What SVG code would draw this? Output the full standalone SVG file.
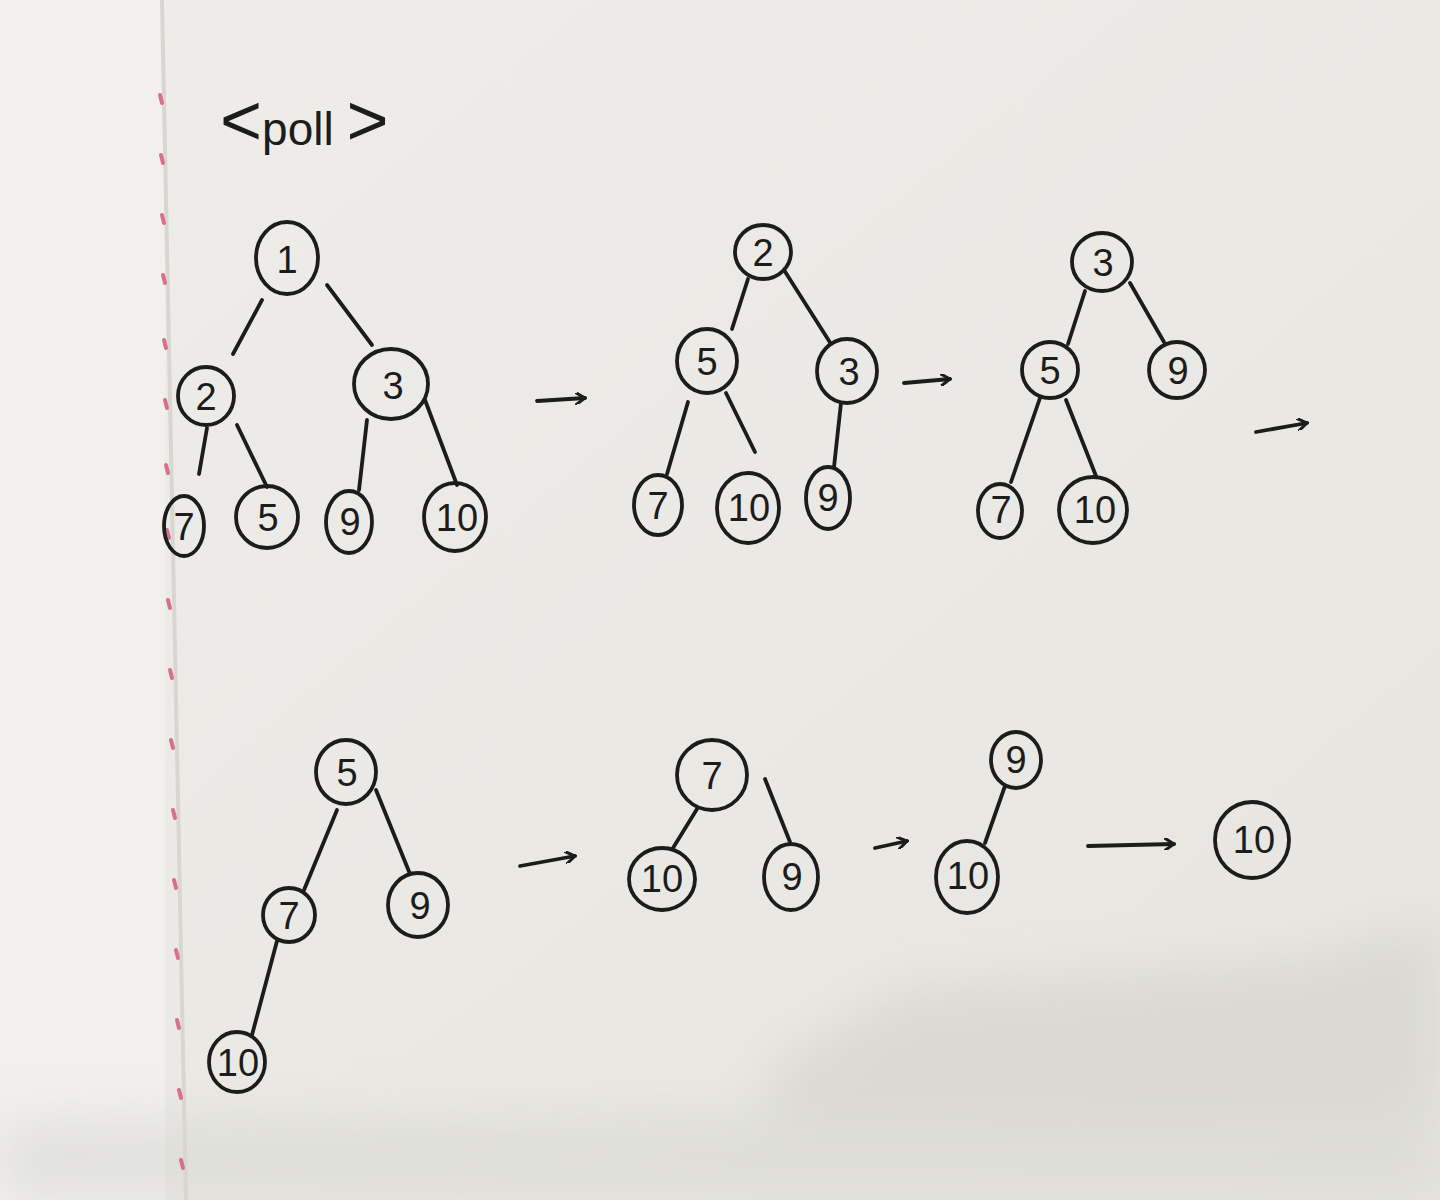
<svg xmlns="http://www.w3.org/2000/svg" width="1440" height="1200" viewBox="0 0 1440 1200">
<defs>
<style>
.n ellipse{fill:none;stroke:#1c1c1c;stroke-width:3.8}
.n text{font-family:"Liberation Sans",Arial,sans-serif;font-size:38px;fill:#1c1c1c;text-anchor:middle;dominant-baseline:central}
.e line{stroke:#1c1c1c;stroke-width:3.8;stroke-linecap:round}
.title{font-family:"Liberation Sans",Arial,sans-serif;font-size:46px;fill:#1c1c1c}
.br{font-size:72px;font-weight:300}
</style>
<linearGradient id="paper" x1="0" y1="0" x2="1" y2="1">
<stop offset="0" stop-color="#eeede9"/>
<stop offset="1" stop-color="#e6e5e0"/>
</linearGradient>
<filter id="blur"><feGaussianBlur stdDeviation="25"/></filter>
<marker id="ah" markerWidth="12" markerHeight="12" refX="10" refY="6" orient="auto" markerUnits="userSpaceOnUse"><path d="M1,0 L10,6 L1,12" fill="none" stroke="#1c1c1c" stroke-width="3" stroke-linecap="round"/></marker>
</defs>
<rect width="1440" height="1200" fill="url(#paper)"/>
<rect x="0" y="0" width="165" height="1200" fill="#f1f0ed"/>
<g filter="url(#blur)" opacity="0.55">
<path d="M760,1200 L770,1070 L900,990 L1100,975 L1300,960 L1440,920 L1440,1200 Z" fill="#cfcec9"/>
<path d="M0,1120 L1440,1110 L1440,1200 L0,1200 Z" fill="#d6d5d0"/>
</g>
<line x1="162" y1="0" x2="186" y2="1200" stroke="#d8d6d0" stroke-width="4"/>
<g stroke="#d9708a" stroke-width="4" stroke-linecap="round">
<line x1="160" y1="95" x2="162" y2="103"/><line x1="161" y1="155" x2="163" y2="163"/><line x1="162" y1="215" x2="164" y2="223"/><line x1="163" y1="275" x2="165" y2="283"/><line x1="164" y1="340" x2="166" y2="348"/><line x1="165" y1="400" x2="167" y2="408"/><line x1="166" y1="465" x2="168" y2="473"/><line x1="167" y1="530" x2="169" y2="538"/><line x1="168" y1="600" x2="170" y2="608"/><line x1="170" y1="670" x2="172" y2="678"/><line x1="171" y1="740" x2="173" y2="748"/><line x1="173" y1="810" x2="175" y2="818"/><line x1="174" y1="880" x2="176" y2="888"/><line x1="176" y1="950" x2="178" y2="958"/><line x1="177" y1="1020" x2="179" y2="1028"/><line x1="179" y1="1090" x2="181" y2="1098"/><line x1="181" y1="1160" x2="183" y2="1168"/>
</g>
<text class="title" x="220" y="145"><tspan class="br">&lt;</tspan>poll <tspan class="br">&gt;</tspan></text>

<g id="connectors" class="e">
<line x1="262" y1="300" x2="233" y2="354"/>
<line x1="327" y1="285" x2="372" y2="345"/>
<line x1="207" y1="428" x2="199" y2="474"/>
<line x1="237" y1="425" x2="267" y2="487"/>
<line x1="367" y1="420" x2="359" y2="490"/>
<line x1="425" y1="400" x2="457" y2="485"/>
<line x1="748" y1="279" x2="732" y2="329"/>
<line x1="784" y1="270" x2="831" y2="344"/>
<line x1="688" y1="402" x2="667" y2="474"/>
<line x1="726" y1="393" x2="755" y2="452"/>
<line x1="841" y1="403" x2="834" y2="467"/>
<line x1="1085" y1="291" x2="1068" y2="344"/>
<line x1="1130" y1="283" x2="1164" y2="342"/>
<line x1="1040" y1="398" x2="1011" y2="482"/>
<line x1="1066" y1="400" x2="1096" y2="476"/>
<line x1="337" y1="810" x2="304" y2="890"/>
<line x1="376" y1="790" x2="410" y2="874"/>
<line x1="277" y1="941" x2="252" y2="1035"/>
<line x1="697" y1="809" x2="673" y2="848"/>
<line x1="765" y1="779" x2="790" y2="842"/>
<line x1="1005" y1="786" x2="985" y2="843"/>
<line x1="537" y1="401" x2="585" y2="398" marker-end="url(#ah)"/>
<line x1="904" y1="383" x2="950" y2="379" marker-end="url(#ah)"/>
<line x1="1256" y1="432" x2="1307" y2="423" marker-end="url(#ah)"/>
<line x1="520" y1="866" x2="575" y2="856" marker-end="url(#ah)"/>
<line x1="875" y1="848" x2="907" y2="841" marker-end="url(#ah)"/>
<line x1="1088" y1="846" x2="1174" y2="844" marker-end="url(#ah)"/>
</g>

<g id="t1-n1" class="n"><ellipse cx="287" cy="258" rx="31" ry="36"/><text x="287" y="260">1</text></g>
<g id="t1-n2" class="n"><ellipse cx="206" cy="396" rx="28" ry="29"/><text x="206" y="397">2</text></g>
<g id="t1-n3" class="n"><ellipse cx="391" cy="384" rx="37" ry="35"/><text x="393" y="386">3</text></g>
<g id="t1-n7" class="n"><ellipse cx="184" cy="526" rx="20" ry="30"/><text x="184" y="527">7</text></g>
<g id="t1-n5" class="n"><ellipse cx="267" cy="517" rx="31" ry="31"/><text x="268" y="518">5</text></g>
<g id="t1-n9" class="n"><ellipse cx="349" cy="522" rx="23" ry="31"/><text x="350" y="522">9</text></g>
<g id="t1-n10" class="n"><ellipse cx="455" cy="517" rx="31" ry="34"/><text x="457" y="518">10</text></g>

<g id="t2-n2" class="n"><ellipse cx="763" cy="252" rx="28" ry="27"/><text x="763" y="253">2</text></g>
<g id="t2-n5" class="n"><ellipse cx="707" cy="361" rx="30" ry="32"/><text x="707" y="362">5</text></g>
<g id="t2-n3" class="n"><ellipse cx="847" cy="371" rx="30" ry="32"/><text x="849" y="372">3</text></g>
<g id="t2-n7" class="n"><ellipse cx="658" cy="505" rx="24" ry="30"/><text x="658" y="506">7</text></g>
<g id="t2-n10" class="n"><ellipse cx="748" cy="508" rx="31" ry="35"/><text x="749" y="508">10</text></g>
<g id="t2-n9" class="n"><ellipse cx="828" cy="498" rx="22" ry="31"/><text x="828" y="498">9</text></g>

<g id="t3-n3" class="n"><ellipse cx="1102" cy="262" rx="30" ry="29"/><text x="1103" y="263">3</text></g>
<g id="t3-n5" class="n"><ellipse cx="1050" cy="370" rx="28" ry="28"/><text x="1050" y="371">5</text></g>
<g id="t3-n9" class="n"><ellipse cx="1177" cy="370" rx="28" ry="28"/><text x="1178" y="371">9</text></g>
<g id="t3-n7" class="n"><ellipse cx="1000" cy="511" rx="22" ry="27"/><text x="1001" y="510">7</text></g>
<g id="t3-n10" class="n"><ellipse cx="1093" cy="510" rx="34" ry="33"/><text x="1095" y="510">10</text></g>

<g id="t4-n5" class="n"><ellipse cx="346" cy="772" rx="30" ry="32"/><text x="347" y="773">5</text></g>
<g id="t4-n7" class="n"><ellipse cx="289" cy="915" rx="26" ry="27"/><text x="289" y="916">7</text></g>
<g id="t4-n9" class="n"><ellipse cx="418" cy="905" rx="30" ry="32"/><text x="420" y="906">9</text></g>
<g id="t4-n10" class="n"><ellipse cx="237" cy="1062" rx="28" ry="30"/><text x="238" y="1063">10</text></g>

<g id="t5-n7" class="n"><ellipse cx="712" cy="775" rx="35" ry="35"/><text x="712" y="776">7</text></g>
<g id="t5-n10" class="n"><ellipse cx="662" cy="879" rx="33" ry="31"/><text x="662" y="879">10</text></g>
<g id="t5-n9" class="n"><ellipse cx="791" cy="877" rx="27" ry="33"/><text x="792" y="877">9</text></g>

<g id="t6-n9" class="n"><ellipse cx="1016" cy="760" rx="25" ry="28"/><text x="1016" y="760">9</text></g>
<g id="t6-n10" class="n"><ellipse cx="967" cy="877" rx="31" ry="36"/><text x="968" y="876">10</text></g>

<g id="t7-n10" class="n"><ellipse cx="1252" cy="840" rx="37" ry="38"/><text x="1254" y="840">10</text></g>
</svg>
